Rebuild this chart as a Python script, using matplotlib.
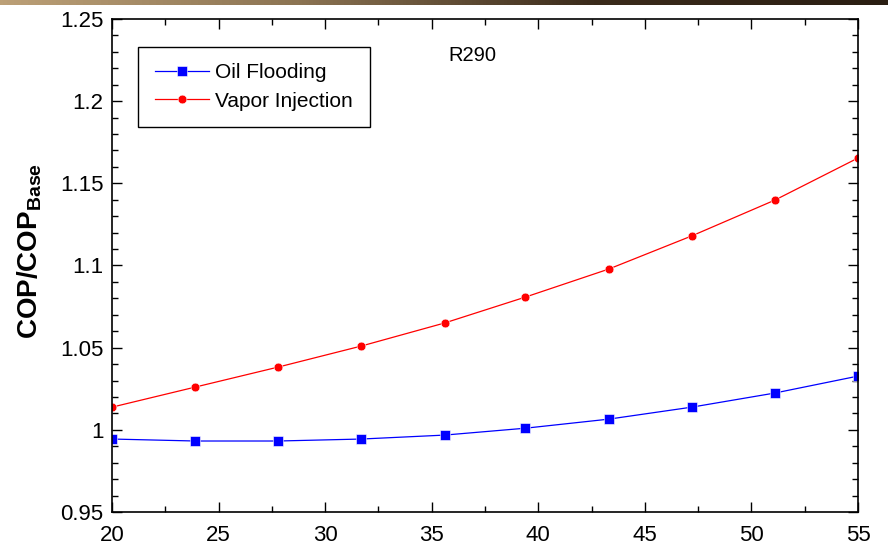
import numpy as np
import matplotlib.pyplot as plt
from matplotlib.ticker import MultipleLocator, FuncFormatter
from matplotlib.colors import LinearSegmentedColormap

plt.rcParams['font.family'] = ['Liberation Sans', 'DejaVu Sans']
plt.rcParams['mathtext.fontset'] = 'custom'
plt.rcParams['mathtext.rm'] = 'Liberation Sans'
plt.rcParams['mathtext.bf'] = 'Liberation Sans:bold'

# temperatures (x) and COP ratios
temp = [20, 23.9, 27.8, 31.7, 35.6, 39.4, 43.3, 47.2, 51.1, 55]
oil_flooding = [0.9944, 0.9932, 0.9932, 0.9944, 0.9968, 1.0010, 1.0065, 1.0138, 1.0224, 1.0327]
vapor_injection = [1.0138, 1.0260, 1.0382, 1.0510, 1.0650, 1.0808, 1.0978, 1.1180, 1.1398, 1.1654]

fig = plt.figure(figsize=(8.88, 5.49), dpi=100)

# brown gradient strip along the top edge
bar = fig.add_axes([0, 1 - 5 / 549, 1, 5 / 549])
cmap = LinearSegmentedColormap.from_list('strip', ['#bca077', '#8c7453', '#3b2b1b', '#2a1e12'])
bar.imshow(np.linspace(0, 1, 256)[None, :], aspect='auto', cmap=cmap)
bar.axis('off')

ax = fig.add_axes([112 / 888, 1 - 512 / 549, (858 - 112) / 888, (512 - 19) / 549])

ax.plot(temp, oil_flooding, '-s', color='blue', lw=0.9, ms=7,
        mec='white', mew=0.4, label='Oil Flooding')
ax.plot(temp, vapor_injection, '-o', color='red', lw=0.9, ms=6.3,
        mec='white', mew=0.4, label='Vapor Injection')

ax.set_xlim(20, 55)
ax.set_ylim(0.95, 1.25)
ax.xaxis.set_major_locator(MultipleLocator(5))
ax.xaxis.set_minor_locator(MultipleLocator(2.5))
ax.yaxis.set_major_locator(MultipleLocator(0.05))
ax.yaxis.set_minor_locator(MultipleLocator(0.01))
ax.yaxis.set_major_formatter(FuncFormatter(lambda v, p: '%g' % round(v, 2)))
ax.tick_params(which='both', direction='in', top=True, right=True, labelsize=16, width=1)
ax.tick_params(which='major', length=7, pad=6)
ax.tick_params(axis='x', which='major', pad=9.5)
ax.tick_params(which='minor', length=4)
for s in ax.spines.values():
    s.set_linewidth(1.2)

fig.text(30 / 888, 1 - 251 / 549, r'$\mathbf{COP/COP_{Base}}$', fontsize=20,
         rotation=90, ha='center', va='center')
ax.text(36.9, 1.2275, 'R290', fontsize=14.5, ha='center', va='center')

leg = ax.legend(loc='upper left', bbox_to_anchor=(0.035, 0.944), fontsize=15,
                handlelength=2.6, handletextpad=0.3, borderpad=0.8,
                labelspacing=0.45, fancybox=False, framealpha=1,
                edgecolor='black', borderaxespad=0)
leg.get_frame().set_linewidth(1)

fig.savefig('out.png', dpi=100)
